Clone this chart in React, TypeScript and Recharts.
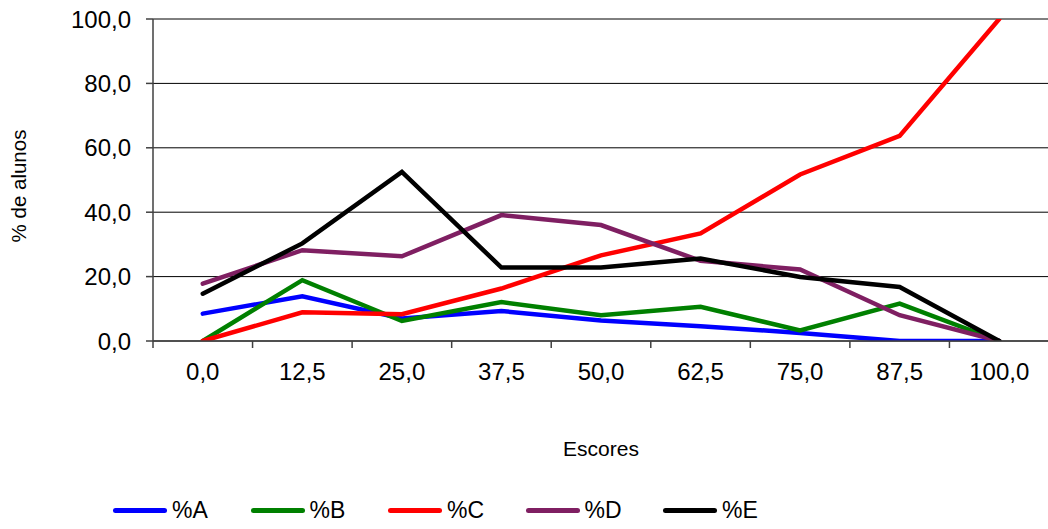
import React from 'react';
import { LineChart, Line, XAxis, YAxis, CartesianGrid, Legend } from 'recharts';

const categories = ['0,0', '12,5', '25,0', '37,5', '50,0', '62,5', '75,0', '87,5', '100,0'];
const pctA = [8.5, 13.9, 7.0, 9.3, 6.4, 4.6, 2.5, 0, 0];
const pctB = [0, 18.9, 6.2, 12.1, 8.0, 10.6, 3.3, 11.6, 0];
const pctC = [0, 8.9, 8.3, 16.3, 26.6, 33.4, 51.7, 63.7, 100];
const pctD = [17.8, 28.2, 26.3, 39.1, 36.0, 24.9, 22.2, 8.0, 0];
const pctE = [14.7, 30.3, 52.5, 22.8, 22.8, 25.6, 19.9, 16.8, 0];
const yTicks = [0, 20, 40, 60, 80, 100];

const seriesNames = ['%A', '%B', '%C', '%D', '%E'];
const seriesColors = ['#0000FF', '#008000', '#FF0000', '#7F1F62', '#000000'];
const seriesValues = [pctA, pctB, pctC, pctD, pctE];

const data = categories.map((c, i) => {
  const row: Record<string, string | number> = { cat: c };
  seriesNames.forEach((n, s) => {
    row[n] = seriesValues[s][i];
  });
  return row;
});

const FONT = '"Liberation Sans", Arial, sans-serif';
const TICK_SIZE = 7;
const TICK_MARGIN = 15;

const fmt = (v: number) => v.toFixed(1).replace('.', ',');

const XTick = (props: any) => {
  const { x, y, payload } = props;
  const off = payload && typeof payload.offset === 'number' ? payload.offset : 0;
  const axisY = y - TICK_MARGIN - TICK_SIZE;
  return (
    <g>
      <line x1={x - off} x2={x - off} y1={axisY} y2={axisY + TICK_SIZE} stroke="#404040" strokeWidth={1.5} />
      <text x={x} y={y} dy="0.71em" textAnchor="middle" fontSize={24} fontFamily={FONT} fill="#000">
        {payload.value}
      </text>
    </g>
  );
};

const YLabel = (props: any) => {
  const vb = props.viewBox || {};
  const cx = (vb.x || 0) + 18;
  const cy = (vb.y || 0) + (vb.height || 0) / 2 + 6;
  return (
    <text
      x={cx}
      y={cy}
      transform={`rotate(-90, ${cx}, ${cy})`}
      textAnchor="middle"
      dominantBaseline="central"
      fontSize={20.5}
      fontFamily={FONT}
      fill="#000"
    >
      % de alunos
    </text>
  );
};

const LegendContent = (props: any) => {
  const payload = props.payload || [];
  return (
    <div style={{ display: 'flex', alignItems: 'center', paddingLeft: 113, height: 30 }}>
      {payload.map((p: any) => (
        <div key={p.value} style={{ display: 'flex', alignItems: 'center', width: 137.5 }}>
          <span
            style={{
              display: 'inline-block',
              width: 54,
              height: 5,
              borderRadius: 3,
              background: p.color,
              marginRight: 5,
            }}
          />
          <span style={{ fontFamily: FONT, fontSize: 23, color: '#000', lineHeight: '30px' }}>{p.value}</span>
        </div>
      ))}
    </div>
  );
};

export default function App() {
  return (
    <div style={{ position: 'absolute', left: 0, top: 0, width: 1048, height: 529, background: '#fff' }}>
      <LineChart width={1048} height={529} data={data} margin={{ top: 19, right: -1, left: 0, bottom: 73 }}>
        <CartesianGrid vertical={false} stroke="#000" strokeWidth={1} />
        <XAxis
          dataKey="cat"
          scale="band"
          height={115}
          tickLine={false}
          tickSize={TICK_SIZE}
          tickMargin={TICK_MARGIN}
          tick={<XTick />}
          interval={0}
          axisLine={{ stroke: '#404040', strokeWidth: 1.5 }}
          label={{ value: 'Escores', position: 'insideBottom', offset: 0, fontSize: 21, fontFamily: FONT, fill: '#000' }}
        />
        <YAxis
          width={153}
          domain={[0, 100]}
          ticks={yTicks}
          tickFormatter={fmt}
          tickSize={TICK_SIZE}
          tickMargin={TICK_MARGIN}
          tick={{ fontSize: 24, fontFamily: FONT, fill: '#000' }}
          tickLine={{ stroke: '#404040', strokeWidth: 1.5 }}
          axisLine={{ stroke: '#404040', strokeWidth: 1.5 }}
          allowDataOverflow
          label={<YLabel />}
        />
        <Legend
          layout="horizontal"
          verticalAlign="middle"
          align="center"
          wrapperStyle={{ position: 'absolute', top: 495, left: 0, width: 1048, height: 30 }}
          content={<LegendContent />}
        />
        {seriesNames.map((n, s) => (
          <Line
            key={n}
            type="linear"
            dataKey={n}
            name={n}
            stroke={seriesColors[s]}
            strokeWidth={4.5}
            strokeLinecap="round"
            dot={false}
            activeDot={false}
            isAnimationActive={false}
          />
        ))}
      </LineChart>
    </div>
  );
}
